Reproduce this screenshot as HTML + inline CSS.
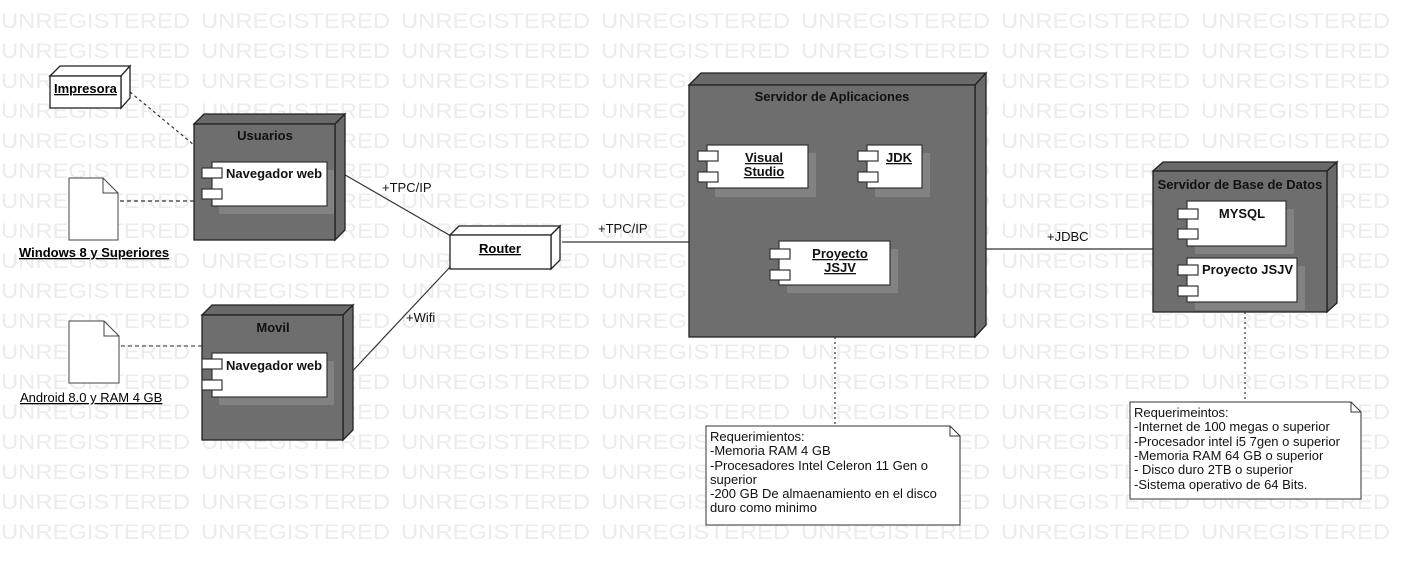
<!DOCTYPE html>
<html><head><meta charset="utf-8"><style>
html,body{margin:0;padding:0;background:#fff;}
svg{display:block;font-family:"Liberation Sans",Arial,sans-serif;}
</style></head><body>
<svg width="1402" height="568" viewBox="0 0 1402 568" xmlns="http://www.w3.org/2000/svg">
<g fill="#ececec" font-size="21">
<g id="row">
<text x="1" y="28" textLength="189" lengthAdjust="spacingAndGlyphs">UNREGISTERED</text>
<text x="201" y="28" textLength="189" lengthAdjust="spacingAndGlyphs">UNREGISTERED</text>
<text x="401" y="28" textLength="189" lengthAdjust="spacingAndGlyphs">UNREGISTERED</text>
<text x="601" y="28" textLength="189" lengthAdjust="spacingAndGlyphs">UNREGISTERED</text>
<text x="801" y="28" textLength="189" lengthAdjust="spacingAndGlyphs">UNREGISTERED</text>
<text x="1001" y="28" textLength="189" lengthAdjust="spacingAndGlyphs">UNREGISTERED</text>
<text x="1201" y="28" textLength="189" lengthAdjust="spacingAndGlyphs">UNREGISTERED</text>
</g>
<use href="#row" y="30"/><use href="#row" y="60"/><use href="#row" y="90"/><use href="#row" y="120"/>
<use href="#row" y="150"/><use href="#row" y="180"/><use href="#row" y="210"/><use href="#row" y="240"/>
<use href="#row" y="270"/><use href="#row" y="300"/><use href="#row" y="331"/><use href="#row" y="361"/>
<use href="#row" y="391"/><use href="#row" y="421"/><use href="#row" y="451"/><use href="#row" y="481"/>
<use href="#row" y="511"/>
</g>

<g stroke="#333" stroke-width="1.2" fill="none">
<line x1="130" y1="92" x2="194" y2="145" stroke-dasharray="3,3"/>
<line x1="106" y1="201" x2="194" y2="201" stroke-dasharray="4,3"/>
<line x1="114" y1="346" x2="202" y2="346" stroke-dasharray="4,3" stroke="#555"/>
<line x1="340" y1="172" x2="451" y2="236"/>
<line x1="346" y1="378" x2="451" y2="266"/>
<line x1="562" y1="242" x2="690" y2="242"/>
<line x1="986" y1="249" x2="1153" y2="249"/>
<line x1="835" y1="337" x2="835" y2="426" stroke-dasharray="2,3"/>
<line x1="1245" y1="312" x2="1245" y2="402" stroke-dasharray="2,3"/>
</g>
<g font-size="13" fill="#111">
<text x="382" y="192">+TPC/IP</text>
<text x="598" y="233">+TPC/IP</text>
<text x="406" y="322">+Wifi</text>
<text x="1047" y="241">+JDBC</text>
</g>

<g stroke="#222" stroke-width="1.3">
<polygon points="50,76 60,66 130,66 121,76" fill="#fff"/>
<polygon points="121,76 130,66 130,98 121,108" fill="#fff"/>
<rect x="50" y="76" width="71" height="32" fill="#fff"/>
</g>
<text x="54" y="93" font-size="13" font-weight="bold" text-decoration="underline">Impresora</text>

<g stroke="#444" stroke-width="1" fill="#fff">
<path d="M69,178 H103 L118,193 V240 H69 Z"/><path d="M103,178 V193 H118" fill="none"/>
<path d="M69,321 H104 L119,336 V383 H69 Z"/><path d="M104,321 V336 H119" fill="none"/>
</g>
<text x="19" y="257" font-size="13" font-weight="bold" text-decoration="underline">Windows 8 y Superiores</text>
<text x="20" y="402" font-size="13" text-decoration="underline">Android 8.0 y RAM 4 GB</text>

<g stroke="#222" stroke-width="1.3">
<polygon points="194,124 204,114 345,114 335,124" fill="#6a6a6a"/>
<polygon points="335,124 345,114 345,230 335,240" fill="#6a6a6a"/>
<rect x="194" y="124" width="141" height="116" fill="#6e6e6e"/>
<polygon points="202,315 212,305 353,305 343,315" fill="#6a6a6a"/>
<polygon points="343,315 353,305 353,430 343,440" fill="#6a6a6a"/>
<rect x="202" y="315" width="141" height="125" fill="#6e6e6e"/>
<polygon points="689,85 701,73 986,73 975,85" fill="#6a6a6a"/>
<polygon points="975,85 986,73 986,325 975,337" fill="#6a6a6a"/>
<rect x="689" y="85" width="286" height="252" fill="#6e6e6e"/>
<polygon points="1153,171 1163,162 1337,162 1327,171" fill="#6a6a6a"/>
<polygon points="1327,171 1337,162 1337,303 1327,312" fill="#6a6a6a"/>
<rect x="1153" y="171" width="174" height="141" fill="#6e6e6e"/>
<polygon points="450,235 459,226 560,226 551,235" fill="#fff"/>
<polygon points="551,235 560,226 560,260 551,269" fill="#fff"/>
<rect x="450" y="235" width="101" height="34" fill="#fff"/>
</g>
<text x="500" y="253" font-size="13" font-weight="bold" text-anchor="middle" text-decoration="underline">Router</text>
<g font-size="13" font-weight="bold" fill="#111" text-anchor="middle">
<text x="265" y="140">Usuarios</text>
<text x="273" y="332">Movil</text>
<text x="832" y="101">Servidor de Aplicaciones</text>
<text x="1240" y="189">Servidor de Base de Datos</text>
</g>

<g fill="#828282">
<rect x="219" y="170" width="115" height="44"/>
<rect x="219" y="361" width="115" height="44"/>
<rect x="715" y="153" width="101" height="44"/>
<rect x="875" y="153" width="55" height="44"/>
<rect x="787" y="249" width="111" height="44"/>
<rect x="1195" y="209" width="99" height="45"/>
<rect x="1195" y="266" width="110" height="44"/>
</g>
<g stroke="#333" stroke-width="1.2" fill="#fff">
<rect x="212" y="162" width="115" height="44"/><rect x="202" y="168" width="20" height="10"/><rect x="202" y="189" width="20" height="10"/>
<rect x="212" y="353" width="115" height="44"/><rect x="202" y="359" width="20" height="10"/><rect x="202" y="380" width="20" height="10"/>
<rect x="707" y="145" width="101" height="43"/><rect x="698" y="151" width="20" height="10"/><rect x="698" y="172" width="20" height="10"/>
<rect x="867" y="145" width="55" height="43"/><rect x="858" y="151" width="20" height="10"/><rect x="858" y="172" width="20" height="10"/>
<rect x="779" y="241" width="111" height="44"/><rect x="770" y="249" width="20" height="10"/><rect x="770" y="270" width="20" height="10"/>
<rect x="1187" y="201" width="99" height="45"/><rect x="1178" y="209" width="20" height="10"/><rect x="1178" y="229" width="20" height="10"/>
<rect x="1187" y="258" width="110" height="44"/><rect x="1178" y="265" width="20" height="10"/><rect x="1178" y="286" width="20" height="10"/>
</g>
<g font-size="13" font-weight="bold" fill="#111">
<text x="226" y="178">Navegador web</text>
<text x="226" y="370">Navegador web</text>
<text x="764" y="162" text-anchor="middle" text-decoration="underline">Visual</text>
<text x="764" y="176" text-anchor="middle" text-decoration="underline">Studio</text>
<text x="899" y="162" text-anchor="middle" text-decoration="underline">JDK</text>
<text x="840" y="258" text-anchor="middle" text-decoration="underline">Proyecto</text>
<text x="840" y="272" text-anchor="middle" text-decoration="underline">JSJV</text>
<text x="1242" y="218" text-anchor="middle">MYSQL</text>
<text x="1202" y="274">Proyecto JSJV</text>
</g>

<g stroke="#333" stroke-width="1" fill="#fff">
<path d="M706,426 H950 L960,436 V525 H706 Z"/><path d="M950,426 V436 H960" fill="none"/>
<path d="M1130,402 H1351 L1361,412 V499 H1130 Z"/><path d="M1351,402 V412 H1361" fill="none"/>
</g>
<g font-size="13" fill="#111">
<text x="710" y="441">Requerimientos:</text>
<text x="710" y="455">-Memoria RAM 4 GB</text>
<text x="710" y="470">-Procesadores Intel Celeron 11 Gen o</text>
<text x="710" y="484">superior</text>
<text x="710" y="498">-200 GB De almaenamiento en el disco</text>
<text x="710" y="512">duro como minimo</text>
<text x="1134" y="417">Requerimeintos:</text>
<text x="1134" y="431">-Internet de 100 megas o superior</text>
<text x="1134" y="446">-Procesador intel i5 7gen o superior</text>
<text x="1134" y="460">-Memoria RAM 64 GB o superior</text>
<text x="1134" y="474">- Disco duro 2TB o superior</text>
<text x="1134" y="489">-Sistema operativo de 64 Bits.</text>
</g>
</svg>
</body></html>
